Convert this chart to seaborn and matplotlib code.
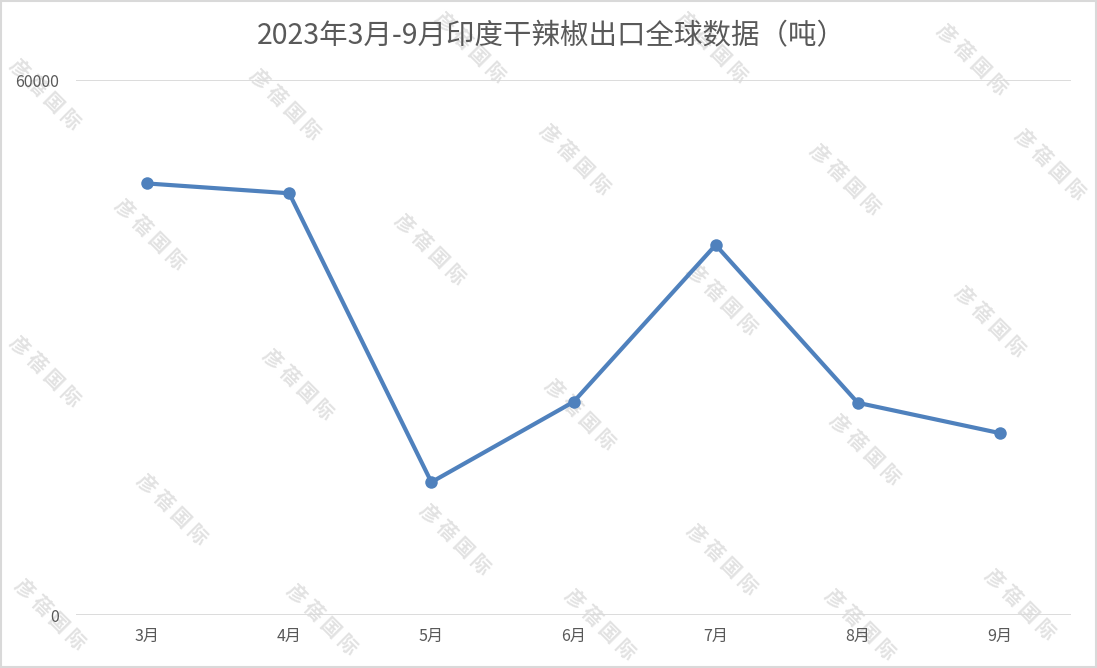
import matplotlib
matplotlib.use("Agg")
import matplotlib.pyplot as plt
import seaborn as sns
import pandas as pd
from matplotlib.patches import Rectangle

months = ["3月", "4月", "5月", "6月", "7月", "8月", "9月"]
exports = [48400, 47300, 14900, 23900, 41500, 23800, 20400]
y_ticks = [0, 60000]
title = "2023年3月-9月印度干辣椒出口全球数据（吨）"
watermark = "彦 蓓 国 际"

sns.set_theme(style="white")
plt.rcParams['font.family'] = ['Noto Sans CJK SC', 'DejaVu Sans']

df = pd.DataFrame({"month": months, "value": exports})

fig = plt.figure(figsize=(10.97, 6.68), dpi=100)
ax = fig.add_axes([0.0693, 0.0793, 0.907, 0.8009])
ax.set_zorder(2)

# watermarks (background)
wm_pos = [(150, 235), (285, 105), (430, 250), (575, 160), (712, 48), (722, 300),
          (845, 180), (972, 60), (990, 322), (1050, 165), (45, 372), (298, 385),
          (580, 415), (865, 450), (172, 510), (455, 540), (722, 560), (1020, 605),
          (50, 615), (322, 620), (600, 625), (470, 48), (45, 95), (860, 625)]
for (px, py) in wm_pos:
    fig.text(px / 1097, 1 - py / 668, watermark, rotation=-45, ha="center", va="center",
             fontsize=14, fontweight="bold", color="#e2e2e2", zorder=-1)

sns.lineplot(data=df, x="month", y="value", ax=ax, color="#4f81bd", linewidth=3.0,
             marker="o", markersize=9, markeredgewidth=0, sort=False, zorder=3)

ax.set_xlim(-0.5, len(months) - 0.5)
ax.set_ylim(0, 60000)
ax.set_yticks(y_ticks)
ax.set_yticklabels([str(v) for v in y_ticks])
ax.yaxis.grid(True, color="#d9d9d9", linewidth=1.3)
ax.set_axisbelow(True)
ax.set_facecolor("none")
for s in ax.spines.values():
    s.set_visible(False)
ax.tick_params(axis="both", length=0, labelsize=11.5, labelcolor="#595959")
ax.tick_params(axis="x", pad=9)
ax.tick_params(axis="y", pad=12)
ax.set_xlabel("")
ax.set_ylabel("")

fig.text(0.5025, 1 - 36 / 668, title, ha="center", va="center", fontsize=20.5, color="#595959")

fig.patches.append(Rectangle((0.001, 0.001), 0.998, 0.998, transform=fig.transFigure,
                             fill=False, edgecolor="#d9d9d9", linewidth=1.5))

fig.savefig("out.png", dpi=100)
